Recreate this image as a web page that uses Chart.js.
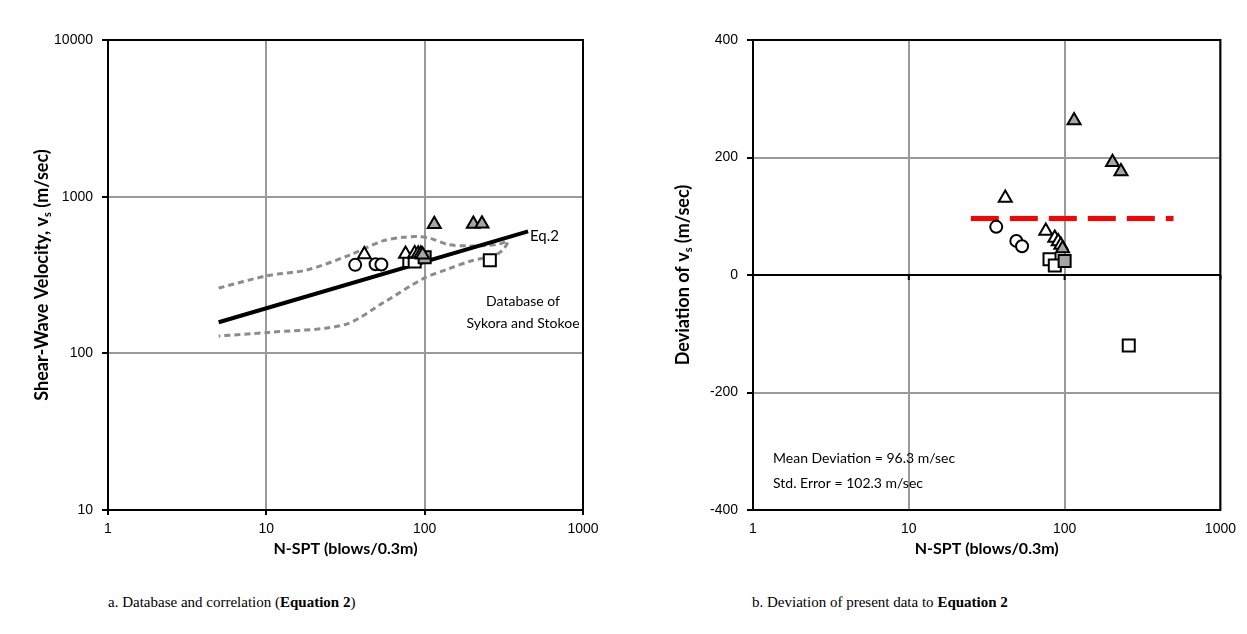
<!DOCTYPE html>
<html>
<head>
<meta charset="utf-8">
<script src="https://cdn.jsdelivr.net/npm/chart.js@4.4.1/dist/chart.umd.min.js"></script>
<style>
  body { margin: 0; background: #fff; width: 1247px; height: 634px; position: relative; overflow: hidden; }
  #wrapA { position: absolute; left: 0; top: 0; width: 620px; height: 562px; }
  #wrapB { position: absolute; left: 640px; top: 0; width: 607px; height: 562px; }
  .cap { position: absolute; top: 594px; font-family: "Liberation Serif", serif; font-size: 15px; color: #000; }
</style>
</head>
<body>
<div id="wrapA"><canvas id="chart-vs"></canvas></div>
<div id="wrapB"><canvas id="chart-dev"></canvas></div>
<div class="cap" style="left:108px">a. Database and correlation (<b>Equation 2</b>)</div>
<div class="cap" style="left:752px">b. Deviation of present data to <b>Equation 2</b></div>
<script>
/* tick labels */
const nTicks = [1, 10, 100, 1000];
const vsTicks = [10, 100, 1000, 10000];
const devTicks = [-400, -200, 0, 200, 400];

/* present data, N-SPT per marker group */
const nCircle = [36.4, 49, 53.3];
const nTriOpen = [41.6, 75.7, 86.5, 91, 94.6];
const nTriGray = [97, 115, 203, 230];
const nSqOpen = [80, 86.5, 258];
const nSqGray = [100];

/* shear-wave velocity (m/sec) */
const vsCircle = [367, 370, 369];
const vsTriOpen = [428, 430, 433, 432, 432];
const vsTriGray = [426, 666, 669, 672];
const vsSqOpen = [388, 386, 393];
const vsSqGray = [410];

/* deviation from Eq.2 (m/sec) */
const devCircle = [82, 58, 49];
const devTriOpen = [131, 75, 63, 57, 51];
const devTriGray = [45, 263, 192, 176];
const devSqOpen = [27, 16, -120];
const devSqGray = [24];

/* Eq.2 correlation */
const eqN = [5, 450];
const eqVs = [158, 600];

/* database envelope (Sykora and Stokoe), traced around */
const envN = [5, 10.3, 18, 33, 55, 73, 90, 110, 140, 190, 250, 300, 335, 317, 283, 193, 140, 98, 55, 31, 10.3, 5];
const envVs = [261, 314, 340, 421, 524, 550, 556, 540, 495, 485, 488, 500, 519, 467, 427, 387, 345, 300, 211, 152, 136, 129];

/* mean deviation */
const meanN = [25, 500];
const meanDev = [96.3, 96.3];

const pts = (xs, ys) => xs.map((x, i) => ({ x: x, y: ys[i] }));
const gridGray = '#9a9a9a';
const tickFont = { family: 'Liberation Sans', size: 14 };

function markerSets(yTri, yTriG, yCirc, ySq, ySqG) {
  return [
    { data: pts(nTriGray, yTriG), pointStyle: 'triangle', pointRadius: 7.5, backgroundColor: '#a6a6a6' },
    { data: pts(nTriOpen, yTri), pointStyle: 'triangle', pointRadius: 7.5, backgroundColor: '#fff' },
    { data: pts(nSqGray, ySqG), pointStyle: 'rect', pointRadius: 8.5, backgroundColor: '#a6a6a6' },
    { data: pts(nSqOpen, ySq), pointStyle: 'rect', pointRadius: 8.5, backgroundColor: '#fff' },
    { data: pts(nCircle, yCirc), pointStyle: 'circle', pointRadius: 6, backgroundColor: '#fff' }
  ].map(d => Object.assign(d, { borderColor: '#000', borderWidth: 2, showLine: false }));
}

const frame = {
  id: 'frame',
  beforeDatasetsDraw(chart) {
    const { ctx, chartArea: a } = chart;
    ctx.save();
    ctx.strokeStyle = '#000';
    ctx.lineWidth = 2;
    ctx.strokeRect(a.left, a.top, a.width, a.height);
    ctx.restore();
  }
};

// rotated axis title with subscript s
function yTitle(ctx, x, yc, before, after) {
  ctx.save();
  ctx.translate(x, yc);
  ctx.rotate(-Math.PI / 2);
  ctx.fillStyle = '#000';
  ctx.textBaseline = 'middle';
  const big = 'bold 18px Lato', small = 'bold 11px Lato';
  ctx.font = big;
  const w1 = ctx.measureText(before).width, w3 = ctx.measureText(after).width;
  ctx.font = small;
  const w2 = ctx.measureText('s').width;
  let px = -(w1 + w2 + w3) / 2;
  ctx.font = big; ctx.fillText(before, px, 0); px += w1;
  ctx.font = small; ctx.fillText('s', px, 5); px += w2;
  ctx.font = big; ctx.fillText(after, px, 0);
  ctx.restore();
}

function logX(title) {
  return {
    type: 'logarithmic', min: 1, max: 1000,
    afterBuildTicks: s => { s.ticks = nTicks.map(v => ({ value: v })); },
    ticks: { callback: v => String(v), color: '#000', font: tickFont, padding: 6, maxRotation: 0 },
    grid: { color: gridGray, lineWidth: 2, tickColor: '#000', tickLength: 5 },
    border: { display: false },
    title: { display: true, text: title, color: '#000', font: { family: 'Lato', size: 16, weight: 'bold' }, padding: { top: 3 } },
    afterFit: s => { s.height = 52; }
  };
}

const annotA = {
  id: 'annotA',
  afterDraw(chart) {
    const ctx = chart.ctx;
    yTitle(ctx, 42, 275, 'Shear-Wave Velocity, v', ' (m/sec)');
    ctx.save();
    ctx.fillStyle = '#000';
    ctx.font = '15px Lato';
    ctx.textBaseline = 'middle';
    ctx.fillText('Eq.2', 530, 236);
    ctx.font = '14px Lato';
    ctx.textAlign = 'center';
    ctx.fillText('Database of', 523, 301);
    ctx.fillText('Sykora and Stokoe', 523, 323);
    ctx.restore();
  }
};

new Chart(document.getElementById('chart-vs').getContext('2d'), {
  type: 'scatter',
  data: {
    datasets: markerSets(vsTriOpen, vsTriGray, vsCircle, vsSqOpen, vsSqGray).concat([
      { data: pts(eqN, eqVs), showLine: true, pointRadius: 0, borderColor: '#000', borderWidth: 4 },
      { data: pts(envN, envVs), showLine: true, pointRadius: 0, borderColor: '#8c8c8c', borderWidth: 3, borderDash: [6, 4], tension: 0.3 }
    ])
  },
  options: {
    responsive: true, maintainAspectRatio: false, animation: false,
    layout: { padding: { top: 40, right: 37, left: 0, bottom: 0 } },
    plugins: { legend: { display: false }, tooltip: { enabled: false } },
    scales: {
      x: logX('N-SPT (blows/0.3m)'),
      y: {
        type: 'logarithmic', min: 10, max: 10000,
        afterBuildTicks: s => { s.ticks = vsTicks.map(v => ({ value: v })); },
        ticks: { callback: v => String(v), color: '#000', font: tickFont, padding: 9 },
        grid: { color: gridGray, lineWidth: 2, tickColor: '#000', tickLength: 6 },
        border: { display: false },
        afterFit: s => { s.width = 108; }
      }
    }
  },
  plugins: [frame, annotA]
});

const annotB = {
  id: 'annotB',
  afterDraw(chart) {
    const ctx = chart.ctx;
    yTitle(ctx, 43, 275, 'Deviation of v', ' (m/sec)');
    ctx.save();
    ctx.fillStyle = '#000';
    ctx.font = '14px Lato';
    ctx.textBaseline = 'middle';
    ctx.fillText('Mean Deviation = 96.3 m/sec', 133, 458);
    ctx.fillText('Std. Error = 102.3 m/sec', 133, 483);
    // small tick marks where the x axis crosses at zero
    const xs = chart.scales.x, y0 = chart.scales.y.getPixelForValue(0);
    ctx.strokeStyle = '#000';
    ctx.lineWidth = 2;
    nTicks.forEach(v => {
      const px = xs.getPixelForValue(v);
      ctx.beginPath(); ctx.moveTo(px, y0); ctx.lineTo(px, y0 + 5); ctx.stroke();
    });
    ctx.restore();
  }
};

const xB = logX('N-SPT (blows/0.3m)');
xB.grid = { color: gridGray, lineWidth: 2, drawTicks: false };
xB.ticks.padding = 11;

new Chart(document.getElementById('chart-dev').getContext('2d'), {
  type: 'scatter',
  data: {
    datasets: markerSets(devTriOpen, devTriGray, devCircle, devSqOpen, devSqGray).concat([
      { data: pts(meanN, meanDev), showLine: true, pointRadius: 0, borderColor: '#ff0000', borderWidth: 5, borderDash: [28, 11] }
    ])
  },
  options: {
    responsive: true, maintainAspectRatio: false, animation: false,
    layout: { padding: { top: 40, right: 21, left: 0, bottom: 0 } },
    plugins: { legend: { display: false }, tooltip: { enabled: false } },
    scales: {
      x: xB,
      y: {
        type: 'linear', min: -400, max: 400,
        afterBuildTicks: s => { s.ticks = devTicks.map(v => ({ value: v })); },
        ticks: { color: '#000', font: tickFont, padding: 9 },
        grid: {
          color: c => (c.tick && c.tick.value === 0 ? '#000' : gridGray),
          lineWidth: 2, tickColor: '#000', tickLength: 6
        },
        border: { display: false },
        afterFit: s => { s.width = 113; }
      }
    }
  },
  plugins: [frame, annotB]
});
</script>
</body>
</html>
